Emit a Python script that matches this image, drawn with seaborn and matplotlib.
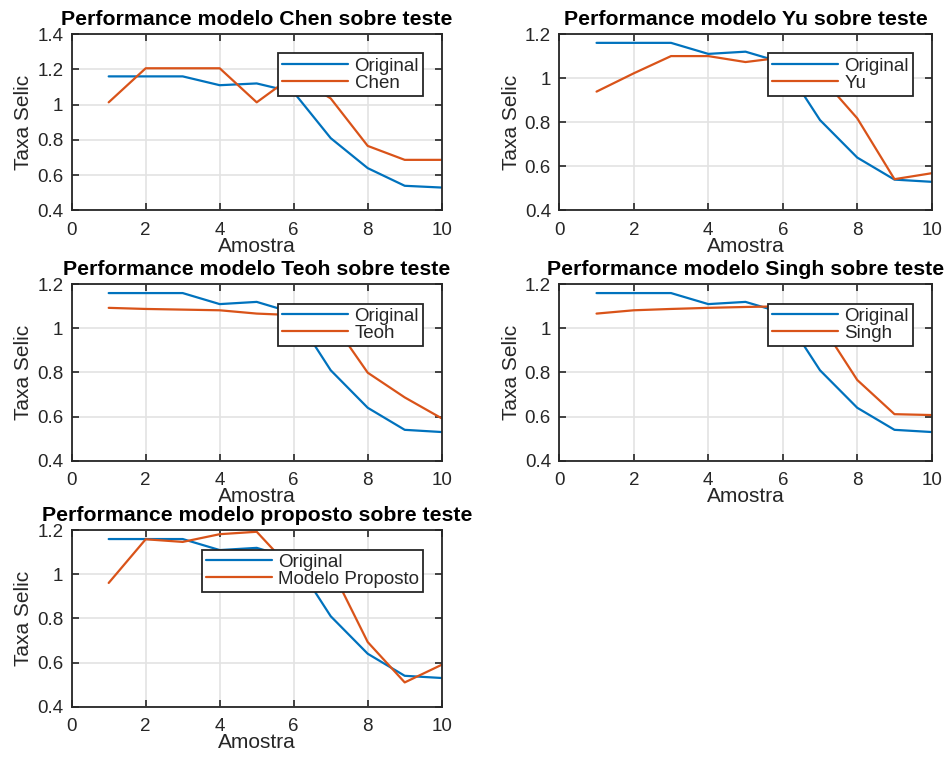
import matplotlib
matplotlib.use("Agg")
import matplotlib.pyplot as plt
import seaborn as sns
import pandas as pd

# Taxa Selic: série original e previsões de cada modelo sobre o conjunto de teste
amostra = [1, 2, 3, 4, 5, 6, 7, 8, 9, 10]
original = [1.16, 1.16, 1.16, 1.11, 1.12, 1.07, 0.81, 0.64, 0.54, 0.53]
chen = [1.013, 1.206, 1.206, 1.206, 1.013, 1.166, 1.035, 0.766, 0.687, 0.687]
yu = [0.939, 1.022, 1.10, 1.10, 1.073, 1.094, 1.01, 0.818, 0.542, 0.569]
teoh = [1.093, 1.088, 1.085, 1.082, 1.067, 1.06, 1.04, 0.799, 0.687, 0.592]
singh = [1.067, 1.082, 1.088, 1.093, 1.097, 1.10, 1.027, 0.766, 0.611, 0.607]
proposto = [0.961, 1.159, 1.147, 1.182, 1.193, 1.013, 1.03, 0.693, 0.51, 0.59]

modelos = [
    ("Chen", chen, "Performance modelo Chen sobre teste", (0.4, 1.4)),
    ("Yu", yu, "Performance modelo Yu sobre teste", (0.4, 1.2)),
    ("Teoh", teoh, "Performance modelo Teoh sobre teste", (0.4, 1.2)),
    ("Singh", singh, "Performance modelo Singh sobre teste", (0.4, 1.2)),
    ("Modelo Proposto", proposto, "Performance modelo proposto sobre teste", (0.4, 1.2)),
]

xticks = [0, 2, 4, 6, 8, 10]
yticks_chen = [0.4, 0.6, 0.8, 1.0, 1.2, 1.4]
yticks_chen_labels = ["0.4", "0.6", "0.8", "1", "1.2", "1.4"]
yticks_std = [0.4, 0.6, 0.8, 1.0, 1.2]
yticks_std_labels = ["0.4", "0.6", "0.8", "1", "1.2"]

sns.set_theme(style="whitegrid")
plt.rcParams["font.family"] = ["Liberation Sans", "DejaVu Sans"]

azul = "#0072BD"
laranja = "#D95319"
escuro = "#262626"

fig = plt.figure(figsize=(9.52, 7.58), dpi=100)
fig.patch.set_facecolor("white")

H = 0.2328
posicoes = [
    (0.0753, 0.7223, 0.3887),
    (0.5875, 0.7223, 0.3912),
    (0.0753, 0.3922, 0.3887),
    (0.5875, 0.3922, 0.3912),
    (0.0753, 0.0677, 0.3887),
]

for (nome, valores, titulo, ylim), (px, py, w) in zip(modelos, posicoes):
    ax = fig.add_axes([px, py, w, H])
    df = pd.DataFrame({"Amostra": amostra, "Original": original, nome: valores})
    sns.lineplot(data=df, x="Amostra", y="Original", ax=ax, color=azul,
                 linewidth=1.6, label="Original")
    sns.lineplot(data=df, x="Amostra", y=nome, ax=ax, color=laranja,
                 linewidth=1.6, label=nome)
    ax.set_xlim(0, 10)
    ax.set_ylim(*ylim)
    ax.set_xticks(xticks)
    ax.set_xticklabels([str(t) for t in xticks])
    if ylim[1] > 1.3:
        ax.set_yticks(yticks_chen)
        ax.set_yticklabels(yticks_chen_labels)
    else:
        ax.set_yticks(yticks_std)
        ax.set_yticklabels(yticks_std_labels)
    ax.set_facecolor("white")
    ax.grid(True, color="#e3e3e3", linewidth=1.2)
    for s in ax.spines.values():
        s.set_visible(True)
        s.set_color(escuro)
        s.set_linewidth(1.3)
    ax.tick_params(direction="in", length=5, width=1.2, colors=escuro,
                   labelsize=13.5, top=True, right=True, bottom=True, left=True,
                   labelcolor=escuro)
    ax.tick_params(axis="y", pad=6)
    ax.tick_params(axis="x", pad=8)
    ax.set_xlabel("Amostra", fontsize=15, color=escuro, labelpad=-1)
    ax.set_ylabel("Taxa Selic", fontsize=15, color=escuro, labelpad=3)
    ax.set_title(titulo, fontsize=15.3, fontweight="bold", color="black", pad=6.5)
    leg = ax.legend(loc="upper right", bbox_to_anchor=(0.95, 0.89),
                    borderaxespad=0, fontsize=13.5, frameon=True, fancybox=False,
                    framealpha=1, edgecolor=escuro, handlelength=3.5,
                    handletextpad=0.35, borderpad=0.22, labelspacing=0.0)
    leg.get_frame().set_linewidth(1.3)
    for txt in leg.get_texts():
        txt.set_color(escuro)
    for handle in leg.legend_handles:
        handle.set_linewidth(1.6)

fig.savefig("out.png", dpi=100, facecolor="white")
